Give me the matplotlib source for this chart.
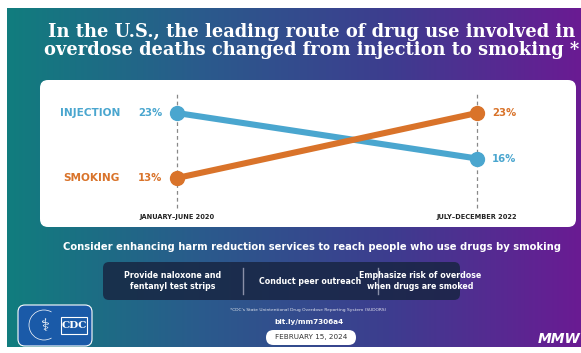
import matplotlib
matplotlib.use("Agg")
import matplotlib.pyplot as plt
import numpy as np
from matplotlib.colors import LinearSegmentedColormap
from matplotlib.patches import FancyBboxPatch, Rectangle, Arc

# --- data ---
periods = ["JANUARY\u2013JUNE 2020", "JULY\u2013DECEMBER 2022"]
injection = [23, 16]
smoking = [13, 23]
series_names = ["INJECTION", "SMOKING"]
series_colors = ["#4aa6cf", "#d9732a"]

title = ("In the U.S., the leading route of drug use involved in\n"
         "overdose deaths changed from injection to smoking *")
subtitle = "Consider enhancing harm reduction services to reach people who use drugs by smoking"
actions = ["Provide naloxone and\nfentanyl test strips",
           "Conduct peer outreach",
           "Emphasize risk of overdose\nwhen drugs are smoked"]
footnote = "*CDC's State Unintentional Drug Overdose Reporting System (SUDORS)"
link = "bit.ly/mm7306a4"
date = "FEBRUARY 15, 2024"

W, H = 581, 353
fig = plt.figure(figsize=(W / 100, H / 100), dpi=100)
fig.patch.set_facecolor("white")

# background axes in pixel coordinates (y down)
bg = fig.add_axes([0, 0, 1, 1])
bg.set_xlim(0, W)
bg.set_ylim(H, 0)
bg.axis("off")

cmap = LinearSegmentedColormap.from_list(
    "bg", ["#117d7e", "#2a5b8c", "#3d3d8f", "#6a1b93"])
grad = np.linspace(0, 1, 256).reshape(1, -1)
bg.imshow(grad, cmap=cmap, extent=[7, W, 347, 8], aspect="auto", zorder=0)

# title
bg.text(312, 41, title, color="white", fontsize=12.9, fontweight="bold",
        family="DejaVu Serif", ha="center", va="center", linespacing=1.0,
        zorder=3)

# white panel
panel = FancyBboxPatch((40, 80), 536, 147, boxstyle="round,pad=0,rounding_size=8",
                       fc="white", ec="none", zorder=1)
bg.add_patch(panel)

# subtitle
bg.text(312, 247, subtitle, color="white", fontsize=7.2, fontweight="bold",
        ha="center", va="center", zorder=3)

# dark action box
box = FancyBboxPatch((103, 262), 357, 38, boxstyle="round,pad=0,rounding_size=6",
                     fc="#172440", ec="none", alpha=0.82, zorder=1)
bg.add_patch(box)
for xc, txt in zip([173, 310, 420], actions):
    bg.text(xc, 281, txt, color="white", fontsize=5.7, fontweight="bold",
            ha="center", va="center", linespacing=1.35, zorder=3)
for xs in [243, 378]:
    bg.plot([xs, xs], [268, 294], color="#8a90a8", lw=1.0, zorder=2)

# footnote, link, date pill
bg.text(308, 310, footnote, color="white", fontsize=3.2, ha="center",
        va="center", alpha=0.85, zorder=3)
bg.text(309, 322, link, color="white", fontsize=5.2, fontweight="bold",
        ha="center", va="center", zorder=3)
pill = FancyBboxPatch((266, 330), 90, 15, boxstyle="round,pad=0,rounding_size=7.5",
                      fc="white", ec="none", zorder=2)
bg.add_patch(pill)
bg.text(311, 337.5, date, color="#333333", fontsize=5.2, ha="center",
        va="center", zorder=3)

# CDC logo
logo = FancyBboxPatch((18, 305), 74, 41, boxstyle="round,pad=0,rounding_size=7",
                      fc="#1a5aa8", ec="white", lw=0.8, zorder=2)
bg.add_patch(logo)
bg.add_patch(Arc((44, 325), 30, 30, theta1=60, theta2=300, color="white",
                 lw=0.5, zorder=3))
bg.text(45, 326, "\u2695", color="white", fontsize=12, ha="center",
        va="center", zorder=3)
bg.add_patch(Rectangle((61, 317), 26, 17, fc="#1a5aa8", ec="white", lw=0.8,
                       zorder=3))
bg.text(74, 325.5, "CDC", color="white", fontsize=7.5, fontweight="bold",
        family="DejaVu Serif", ha="center", va="center", zorder=4)

# MMWR mark (cropped in the source, keep the visible part)
bg.text(580, 339, "MMW", color="white", fontsize=10, fontweight="bold",
        style="italic", ha="right", va="center", zorder=3)

# --- line chart axes, placed over the white panel ---
# pixel mapping: x=0 -> 177, x=1 -> 477 ; value 23 -> 113, 13 -> 178
px_l, px_r, px_t, px_b = 40, 576, 80, 227
x0_px, x1_px = 177, 477
ppx = x1_px - x0_px
xmin = (px_l - x0_px) / ppx
xmax = (px_r - x0_px) / ppx
ppv = 6.5
ymax = 23 + (113 - px_t) / ppv
ymin = 23 - (px_b - 113) / ppv

ax = fig.add_axes([px_l / W, 1 - px_b / H, (px_r - px_l) / W, (px_b - px_t) / H])
ax.set_xlim(xmin, xmax)
ax.set_ylim(ymin, ymax)
ax.axis("off")
ax.patch.set_alpha(0)

xs = np.arange(len(periods))
for x in xs:
    ax.plot([x, x], [ymin + 3.0, ymax - 2.0], color="#888888", lw=0.9,
            ls=(0, (3, 2.5)), zorder=1)
    ax.text(x, ymin + 1.5, periods[x], color="#222222", fontsize=4.8,
            fontweight="bold", ha="center", va="center")

for name, vals, col in zip(series_names, [injection, smoking], series_colors):
    ax.plot(xs, vals, color=col, lw=4.4, marker="o", ms=10,
            solid_capstyle="round", zorder=3)
    ax.text(-0.19, vals[0], name, color=col, fontsize=7.6, fontweight="bold",
            ha="right", va="center")
    ax.text(-0.05, vals[0], f"{vals[0]}%", color=col, fontsize=7.3,
            fontweight="bold", ha="right", va="center")
    ax.text(1.05, vals[1], f"{vals[1]}%", color=col, fontsize=7.3,
            fontweight="bold", ha="left", va="center")

fig.savefig("out.png", dpi=100)
